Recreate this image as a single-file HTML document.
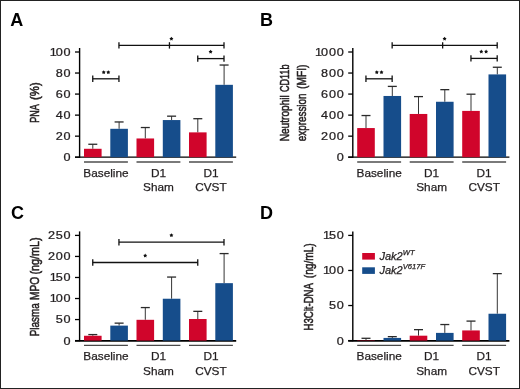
<!DOCTYPE html>
<html><head><meta charset="utf-8"><style>
html,body{margin:0;padding:0;background:#fff;}
body{width:520px;height:389px;overflow:hidden;}
svg{display:block;will-change:transform;}
text{font-family:"Liberation Sans",sans-serif;fill:#231f20;}
.t{font-size:11.8px;stroke:#231f20;stroke-width:0.25px;}
.tk{font-size:11px;letter-spacing:0.7px;stroke:#231f20;stroke-width:0.25px;}
.st{font-size:11px;font-weight:bold;}
.yl{font-size:12px;stroke:#231f20;stroke-width:0.55px;}
.lg{font-size:11px;font-style:italic;stroke:#231f20;stroke-width:0.25px;}
.pl{font-size:18px;font-weight:bold;fill:#000;}
</style></head><body>
<svg width="520" height="389" viewBox="0 0 520 389">
<rect x="0" y="0" width="520" height="389" fill="#fff"/>
<line x1="79.6" y1="48" x2="79.6" y2="157.85" stroke="#000" stroke-width="1.4"/>
<line x1="75" y1="157.2" x2="236.2" y2="157.2" stroke="#000" stroke-width="1.3"/>
<line x1="75" y1="157.2" x2="79.6" y2="157.2" stroke="#000" stroke-width="1.3"/>
<text transform="translate(71.4,161.1) scale(1.15,1)" text-anchor="end" class="tk">0</text>
<line x1="75" y1="136.16" x2="79.6" y2="136.16" stroke="#000" stroke-width="1.3"/>
<text transform="translate(71.4,140.06) scale(1.15,1)" text-anchor="end" class="tk">20</text>
<line x1="75" y1="115.12" x2="79.6" y2="115.12" stroke="#000" stroke-width="1.3"/>
<text transform="translate(71.4,119.02) scale(1.15,1)" text-anchor="end" class="tk">40</text>
<line x1="75" y1="94.08" x2="79.6" y2="94.08" stroke="#000" stroke-width="1.3"/>
<text transform="translate(71.4,97.98) scale(1.15,1)" text-anchor="end" class="tk">60</text>
<line x1="75" y1="73.04" x2="79.6" y2="73.04" stroke="#000" stroke-width="1.3"/>
<text transform="translate(71.4,76.94) scale(1.15,1)" text-anchor="end" class="tk">80</text>
<line x1="75" y1="52" x2="79.6" y2="52" stroke="#000" stroke-width="1.3"/>
<text transform="translate(71.4,55.9) scale(1.15,1)" text-anchor="end" class="tk">1<tspan dx="-1.6">00</tspan></text>
<line x1="92.8" y1="144.26" x2="92.8" y2="148.78" stroke="#2a2a2a" stroke-width="0.95"/>
<line x1="88.3" y1="144.26" x2="97.3" y2="144.26" stroke="#2a2a2a" stroke-width="1.3"/>
<rect x="84" y="148.78" width="17.6" height="8.42" fill="#d0052b"/>
<line x1="119.1" y1="121.96" x2="119.1" y2="128.8" stroke="#2a2a2a" stroke-width="0.95"/>
<line x1="114.6" y1="121.96" x2="123.6" y2="121.96" stroke="#2a2a2a" stroke-width="1.3"/>
<rect x="110.3" y="128.8" width="17.6" height="28.4" fill="#164d8b"/>
<line x1="84" y1="162" x2="127.9" y2="162" stroke="#7a7a7a" stroke-width="1.8"/>
<line x1="145.3" y1="127.53" x2="145.3" y2="138.47" stroke="#2a2a2a" stroke-width="0.95"/>
<line x1="140.8" y1="127.53" x2="149.8" y2="127.53" stroke="#2a2a2a" stroke-width="1.3"/>
<rect x="136.5" y="138.47" width="17.6" height="18.73" fill="#d0052b"/>
<line x1="171.6" y1="116.17" x2="171.6" y2="120.06" stroke="#2a2a2a" stroke-width="0.95"/>
<line x1="167.1" y1="116.17" x2="176.1" y2="116.17" stroke="#2a2a2a" stroke-width="1.3"/>
<rect x="162.8" y="120.06" width="17.6" height="37.14" fill="#164d8b"/>
<line x1="136.5" y1="162" x2="180.4" y2="162" stroke="#7a7a7a" stroke-width="1.8"/>
<line x1="197.8" y1="118.7" x2="197.8" y2="132.37" stroke="#2a2a2a" stroke-width="0.95"/>
<line x1="193.3" y1="118.7" x2="202.3" y2="118.7" stroke="#2a2a2a" stroke-width="1.3"/>
<rect x="189" y="132.37" width="17.6" height="24.83" fill="#d0052b"/>
<line x1="224.1" y1="65.04" x2="224.1" y2="84.82" stroke="#2a2a2a" stroke-width="0.95"/>
<line x1="219.6" y1="65.04" x2="228.6" y2="65.04" stroke="#2a2a2a" stroke-width="1.3"/>
<rect x="215.3" y="84.82" width="17.6" height="72.38" fill="#164d8b"/>
<line x1="189" y1="162" x2="232.9" y2="162" stroke="#7a7a7a" stroke-width="1.8"/>
<text x="105.95" y="177" text-anchor="middle" class="t">Baseline</text>
<text x="158.45" y="177" text-anchor="middle" class="t">D1</text>
<text x="158.45" y="191.3" text-anchor="middle" class="t">Sham</text>
<text x="210.95" y="177" text-anchor="middle" class="t">D1</text>
<text x="210.95" y="191.3" text-anchor="middle" class="t">CVST</text>
<text transform="translate(39.4,122.74) rotate(-90)" class="yl" style="font-size:13.4px;font-weight:normal" textLength="18.56" lengthAdjust="spacingAndGlyphs">PNA</text>
<text transform="translate(39.4,99.9) rotate(-90)" class="yl" style="font-size:13.4px;font-weight:normal" textLength="17.6" lengthAdjust="spacingAndGlyphs">(%)</text>
<line x1="92.75" y1="78.8" x2="118.95" y2="78.8" stroke="#111" stroke-width="1.3"/>
<line x1="92.75" y1="75.6" x2="92.75" y2="82" stroke="#111" stroke-width="1.3"/>
<line x1="118.95" y1="75.6" x2="118.95" y2="82" stroke="#111" stroke-width="1.3"/>
<polygon points="103.7,70.2 104.38,71.37 105.7,71.65 104.79,72.66 104.93,74 103.7,73.45 102.47,74 102.61,72.66 101.7,71.65 103.02,71.37" fill="#111"/>
<polygon points="108.3,70.2 108.98,71.37 110.3,71.65 109.39,72.66 109.53,74 108.3,73.45 107.07,74 107.21,72.66 106.3,71.65 107.62,71.37" fill="#111"/>
<line x1="118.95" y1="45.4" x2="224" y2="45.4" stroke="#111" stroke-width="1.3"/>
<line x1="118.95" y1="42.2" x2="118.95" y2="48.6" stroke="#111" stroke-width="1.3"/>
<line x1="224" y1="42.2" x2="224" y2="48.6" stroke="#111" stroke-width="1.3"/>
<line x1="169.45" y1="42.2" x2="169.45" y2="48.6" stroke="#111" stroke-width="1.3"/>
<polygon points="171.4,36.7 172.08,37.87 173.4,38.15 172.49,39.16 172.63,40.5 171.4,39.95 170.17,40.5 170.31,39.16 169.4,38.15 170.72,37.87" fill="#111"/>
<line x1="197.75" y1="58.6" x2="224" y2="58.6" stroke="#111" stroke-width="1.3"/>
<line x1="197.75" y1="55.4" x2="197.75" y2="61.8" stroke="#111" stroke-width="1.3"/>
<line x1="224" y1="55.4" x2="224" y2="61.8" stroke="#111" stroke-width="1.3"/>
<polygon points="210.6,49.7 211.28,50.87 212.6,51.15 211.69,52.16 211.83,53.5 210.6,52.95 209.37,53.5 209.51,52.16 208.6,51.15 209.92,50.87" fill="#111"/>
<line x1="352.8" y1="48" x2="352.8" y2="157.85" stroke="#000" stroke-width="1.4"/>
<line x1="348.2" y1="157.2" x2="509.4" y2="157.2" stroke="#000" stroke-width="1.3"/>
<line x1="348.2" y1="157.2" x2="352.8" y2="157.2" stroke="#000" stroke-width="1.3"/>
<text transform="translate(344.6,161.1) scale(1.15,1)" text-anchor="end" class="tk">0</text>
<line x1="348.2" y1="136.16" x2="352.8" y2="136.16" stroke="#000" stroke-width="1.3"/>
<text transform="translate(344.6,140.06) scale(1.15,1)" text-anchor="end" class="tk">200</text>
<line x1="348.2" y1="115.12" x2="352.8" y2="115.12" stroke="#000" stroke-width="1.3"/>
<text transform="translate(344.6,119.02) scale(1.15,1)" text-anchor="end" class="tk">400</text>
<line x1="348.2" y1="94.08" x2="352.8" y2="94.08" stroke="#000" stroke-width="1.3"/>
<text transform="translate(344.6,97.98) scale(1.15,1)" text-anchor="end" class="tk">600</text>
<line x1="348.2" y1="73.04" x2="352.8" y2="73.04" stroke="#000" stroke-width="1.3"/>
<text transform="translate(344.6,76.94) scale(1.15,1)" text-anchor="end" class="tk">800</text>
<line x1="348.2" y1="52" x2="352.8" y2="52" stroke="#000" stroke-width="1.3"/>
<text transform="translate(344.6,55.9) scale(1.15,1)" text-anchor="end" class="tk">1<tspan dx="-1.6">000</tspan></text>
<line x1="366" y1="115.54" x2="366" y2="128.06" stroke="#2a2a2a" stroke-width="0.95"/>
<line x1="361.5" y1="115.54" x2="370.5" y2="115.54" stroke="#2a2a2a" stroke-width="1.3"/>
<rect x="357.2" y="128.06" width="17.6" height="29.14" fill="#d0052b"/>
<line x1="392.3" y1="86.4" x2="392.3" y2="95.97" stroke="#2a2a2a" stroke-width="0.95"/>
<line x1="387.8" y1="86.4" x2="396.8" y2="86.4" stroke="#2a2a2a" stroke-width="1.3"/>
<rect x="383.5" y="95.97" width="17.6" height="61.23" fill="#164d8b"/>
<line x1="357.2" y1="162" x2="401.1" y2="162" stroke="#7a7a7a" stroke-width="1.8"/>
<line x1="418.5" y1="96.6" x2="418.5" y2="113.96" stroke="#2a2a2a" stroke-width="0.95"/>
<line x1="414" y1="96.6" x2="423" y2="96.6" stroke="#2a2a2a" stroke-width="1.3"/>
<rect x="409.7" y="113.96" width="17.6" height="43.24" fill="#d0052b"/>
<line x1="444.8" y1="89.66" x2="444.8" y2="101.76" stroke="#2a2a2a" stroke-width="0.95"/>
<line x1="440.3" y1="89.66" x2="449.3" y2="89.66" stroke="#2a2a2a" stroke-width="1.3"/>
<rect x="436" y="101.76" width="17.6" height="55.44" fill="#164d8b"/>
<line x1="409.7" y1="162" x2="453.6" y2="162" stroke="#7a7a7a" stroke-width="1.8"/>
<line x1="471" y1="94.19" x2="471" y2="110.91" stroke="#2a2a2a" stroke-width="0.95"/>
<line x1="466.5" y1="94.19" x2="475.5" y2="94.19" stroke="#2a2a2a" stroke-width="1.3"/>
<rect x="462.2" y="110.91" width="17.6" height="46.29" fill="#d0052b"/>
<line x1="497.3" y1="67.25" x2="497.3" y2="74.41" stroke="#2a2a2a" stroke-width="0.95"/>
<line x1="492.8" y1="67.25" x2="501.8" y2="67.25" stroke="#2a2a2a" stroke-width="1.3"/>
<rect x="488.5" y="74.41" width="17.6" height="82.79" fill="#164d8b"/>
<line x1="462.2" y1="162" x2="506.1" y2="162" stroke="#7a7a7a" stroke-width="1.8"/>
<text x="379.15" y="177" text-anchor="middle" class="t">Baseline</text>
<text x="431.65" y="177" text-anchor="middle" class="t">D1</text>
<text x="431.65" y="191.3" text-anchor="middle" class="t">Sham</text>
<text x="484.15" y="177" text-anchor="middle" class="t">D1</text>
<text x="484.15" y="191.3" text-anchor="middle" class="t">CVST</text>
<text transform="translate(289.4,141.33) rotate(-90)" class="yl" style="font-size:13.4px;font-weight:normal" textLength="46.11" lengthAdjust="spacingAndGlyphs">Neutrophil</text>
<text transform="translate(289.4,92.05) rotate(-90)" class="yl" style="font-size:13.4px;font-weight:normal" textLength="27.62" lengthAdjust="spacingAndGlyphs">CD11b</text>
<text transform="translate(305.9,141.32) rotate(-90)" class="yl" style="font-size:13.4px;font-weight:normal" textLength="47.86" lengthAdjust="spacingAndGlyphs">expression</text>
<text transform="translate(305.9,88.93) rotate(-90)" class="yl" style="font-size:13.4px;font-weight:normal" textLength="24.37" lengthAdjust="spacingAndGlyphs">(MFI)</text>
<line x1="365.95" y1="78.8" x2="392.15" y2="78.8" stroke="#111" stroke-width="1.3"/>
<line x1="365.95" y1="75.6" x2="365.95" y2="82" stroke="#111" stroke-width="1.3"/>
<line x1="392.15" y1="75.6" x2="392.15" y2="82" stroke="#111" stroke-width="1.3"/>
<polygon points="376.8,70.2 377.48,71.37 378.8,71.65 377.89,72.66 378.03,74 376.8,73.45 375.57,74 375.71,72.66 374.8,71.65 376.12,71.37" fill="#111"/>
<polygon points="381.5,70.2 382.18,71.37 383.5,71.65 382.59,72.66 382.73,74 381.5,73.45 380.27,74 380.41,72.66 379.5,71.65 380.82,71.37" fill="#111"/>
<line x1="392.15" y1="45.4" x2="497.2" y2="45.4" stroke="#111" stroke-width="1.3"/>
<line x1="392.15" y1="42.2" x2="392.15" y2="48.6" stroke="#111" stroke-width="1.3"/>
<line x1="497.2" y1="42.2" x2="497.2" y2="48.6" stroke="#111" stroke-width="1.3"/>
<line x1="442.65" y1="42.2" x2="442.65" y2="48.6" stroke="#111" stroke-width="1.3"/>
<polygon points="444.6,36.7 445.28,37.87 446.6,38.15 445.69,39.16 445.83,40.5 444.6,39.95 443.37,40.5 443.51,39.16 442.6,38.15 443.92,37.87" fill="#111"/>
<line x1="470.95" y1="58.4" x2="497.2" y2="58.4" stroke="#111" stroke-width="1.3"/>
<line x1="470.95" y1="55.2" x2="470.95" y2="61.6" stroke="#111" stroke-width="1.3"/>
<line x1="497.2" y1="55.2" x2="497.2" y2="61.6" stroke="#111" stroke-width="1.3"/>
<polygon points="481.3,49.6 481.98,50.77 483.3,51.05 482.39,52.06 482.53,53.4 481.3,52.85 480.07,53.4 480.21,52.06 479.3,51.05 480.62,50.77" fill="#111"/>
<polygon points="486.1,49.6 486.78,50.77 488.1,51.05 487.19,52.06 487.33,53.4 486.1,52.85 484.87,53.4 485.01,52.06 484.1,51.05 485.42,50.77" fill="#111"/>
<line x1="79.6" y1="231.4" x2="79.6" y2="341.25" stroke="#000" stroke-width="1.4"/>
<line x1="75" y1="340.85" x2="236.2" y2="340.85" stroke="#000" stroke-width="1.6"/>
<line x1="75" y1="340.6" x2="79.6" y2="340.6" stroke="#000" stroke-width="1.3"/>
<text transform="translate(71.4,344.5) scale(1.15,1)" text-anchor="end" class="tk">0</text>
<line x1="75" y1="319.56" x2="79.6" y2="319.56" stroke="#000" stroke-width="1.3"/>
<text transform="translate(71.4,323.46) scale(1.15,1)" text-anchor="end" class="tk">50</text>
<line x1="75" y1="298.52" x2="79.6" y2="298.52" stroke="#000" stroke-width="1.3"/>
<text transform="translate(71.4,302.42) scale(1.15,1)" text-anchor="end" class="tk">1<tspan dx="-1.6">00</tspan></text>
<line x1="75" y1="277.48" x2="79.6" y2="277.48" stroke="#000" stroke-width="1.3"/>
<text transform="translate(71.4,281.38) scale(1.15,1)" text-anchor="end" class="tk">1<tspan dx="-1.6">50</tspan></text>
<line x1="75" y1="256.44" x2="79.6" y2="256.44" stroke="#000" stroke-width="1.3"/>
<text transform="translate(71.4,260.34) scale(1.15,1)" text-anchor="end" class="tk">200</text>
<line x1="75" y1="235.4" x2="79.6" y2="235.4" stroke="#000" stroke-width="1.3"/>
<text transform="translate(71.4,239.3) scale(1.15,1)" text-anchor="end" class="tk">250</text>
<line x1="92.8" y1="334.58" x2="92.8" y2="335.76" stroke="#2a2a2a" stroke-width="0.95"/>
<line x1="88.3" y1="334.58" x2="97.3" y2="334.58" stroke="#2a2a2a" stroke-width="1.3"/>
<rect x="84" y="335.76" width="17.6" height="4.84" fill="#d0052b"/>
<line x1="119.1" y1="323.14" x2="119.1" y2="325.62" stroke="#2a2a2a" stroke-width="0.95"/>
<line x1="114.6" y1="323.14" x2="123.6" y2="323.14" stroke="#2a2a2a" stroke-width="1.3"/>
<rect x="110.3" y="325.62" width="17.6" height="14.98" fill="#164d8b"/>
<line x1="84" y1="345.4" x2="127.9" y2="345.4" stroke="#4a4a4a" stroke-width="1.15"/>
<line x1="145.3" y1="307.57" x2="145.3" y2="319.81" stroke="#2a2a2a" stroke-width="0.95"/>
<line x1="140.8" y1="307.57" x2="149.8" y2="307.57" stroke="#2a2a2a" stroke-width="1.3"/>
<rect x="136.5" y="319.81" width="17.6" height="20.79" fill="#d0052b"/>
<line x1="171.6" y1="277.06" x2="171.6" y2="298.73" stroke="#2a2a2a" stroke-width="0.95"/>
<line x1="167.1" y1="277.06" x2="176.1" y2="277.06" stroke="#2a2a2a" stroke-width="1.3"/>
<rect x="162.8" y="298.73" width="17.6" height="41.87" fill="#164d8b"/>
<line x1="136.5" y1="345.4" x2="180.4" y2="345.4" stroke="#4a4a4a" stroke-width="1.15"/>
<line x1="197.8" y1="311.35" x2="197.8" y2="319.01" stroke="#2a2a2a" stroke-width="0.95"/>
<line x1="193.3" y1="311.35" x2="202.3" y2="311.35" stroke="#2a2a2a" stroke-width="1.3"/>
<rect x="189" y="319.01" width="17.6" height="21.59" fill="#d0052b"/>
<line x1="224.1" y1="253.58" x2="224.1" y2="283.16" stroke="#2a2a2a" stroke-width="0.95"/>
<line x1="219.6" y1="253.58" x2="228.6" y2="253.58" stroke="#2a2a2a" stroke-width="1.3"/>
<rect x="215.3" y="283.16" width="17.6" height="57.44" fill="#164d8b"/>
<line x1="189" y1="345.4" x2="232.9" y2="345.4" stroke="#4a4a4a" stroke-width="1.15"/>
<text x="105.95" y="360.4" text-anchor="middle" class="t">Baseline</text>
<text x="158.45" y="360.4" text-anchor="middle" class="t">D1</text>
<text x="158.45" y="374.7" text-anchor="middle" class="t">Sham</text>
<text x="210.95" y="360.4" text-anchor="middle" class="t">D1</text>
<text x="210.95" y="374.7" text-anchor="middle" class="t">CVST</text>
<text transform="translate(39.1,336.31) rotate(-90)" class="yl" style="font-size:13.4px;font-weight:normal" textLength="33.11" lengthAdjust="spacingAndGlyphs">Plasma</text>
<text transform="translate(39.1,299.93) rotate(-90)" class="yl" style="font-size:13.4px;font-weight:normal" textLength="23.12" lengthAdjust="spacingAndGlyphs">MPO</text>
<text transform="translate(39.1,274.57) rotate(-90)" class="yl" style="font-size:13.4px;font-weight:normal" textLength="37.24" lengthAdjust="spacingAndGlyphs">(ng/mL)</text>
<line x1="118.95" y1="242.2" x2="224" y2="242.2" stroke="#111" stroke-width="1.3"/>
<line x1="118.95" y1="239" x2="118.95" y2="245.4" stroke="#111" stroke-width="1.3"/>
<line x1="224" y1="239" x2="224" y2="245.4" stroke="#111" stroke-width="1.3"/>
<polygon points="171.4,233.2 172.08,234.37 173.4,234.65 172.49,235.66 172.63,237 171.4,236.45 170.17,237 170.31,235.66 169.4,234.65 170.72,234.37" fill="#111"/>
<line x1="92.75" y1="262.5" x2="197.75" y2="262.5" stroke="#111" stroke-width="1.3"/>
<line x1="92.75" y1="259.3" x2="92.75" y2="265.7" stroke="#111" stroke-width="1.3"/>
<line x1="197.75" y1="259.3" x2="197.75" y2="265.7" stroke="#111" stroke-width="1.3"/>
<polygon points="145.2,253.6 145.88,254.77 147.2,255.05 146.29,256.06 146.43,257.4 145.2,256.85 143.97,257.4 144.11,256.06 143.2,255.05 144.52,254.77" fill="#111"/>
<line x1="352.8" y1="231.4" x2="352.8" y2="341.25" stroke="#000" stroke-width="1.4"/>
<line x1="348.2" y1="340.85" x2="509.4" y2="340.85" stroke="#000" stroke-width="1.6"/>
<line x1="348.2" y1="340.6" x2="352.8" y2="340.6" stroke="#000" stroke-width="1.3"/>
<text transform="translate(344.6,344.5) scale(1.15,1)" text-anchor="end" class="tk">0</text>
<line x1="348.2" y1="305.53" x2="352.8" y2="305.53" stroke="#000" stroke-width="1.3"/>
<text transform="translate(344.6,309.43) scale(1.15,1)" text-anchor="end" class="tk">50</text>
<line x1="348.2" y1="270.47" x2="352.8" y2="270.47" stroke="#000" stroke-width="1.3"/>
<text transform="translate(344.6,274.37) scale(1.15,1)" text-anchor="end" class="tk">1<tspan dx="-1.6">00</tspan></text>
<line x1="348.2" y1="235.4" x2="352.8" y2="235.4" stroke="#000" stroke-width="1.3"/>
<text transform="translate(344.6,239.3) scale(1.15,1)" text-anchor="end" class="tk">1<tspan dx="-1.6">50</tspan></text>
<line x1="366" y1="338.29" x2="366" y2="340.25" stroke="#2a2a2a" stroke-width="0.95"/>
<line x1="361.5" y1="338.29" x2="370.5" y2="338.29" stroke="#2a2a2a" stroke-width="1.3"/>
<rect x="357.2" y="340.25" width="17.6" height="0.35" fill="#d0052b"/>
<line x1="392.3" y1="336.67" x2="392.3" y2="337.93" stroke="#2a2a2a" stroke-width="0.95"/>
<line x1="387.8" y1="336.67" x2="396.8" y2="336.67" stroke="#2a2a2a" stroke-width="1.3"/>
<rect x="383.5" y="337.93" width="17.6" height="2.67" fill="#164d8b"/>
<line x1="357.2" y1="345.4" x2="401.1" y2="345.4" stroke="#4a4a4a" stroke-width="1.15"/>
<line x1="418.5" y1="329.66" x2="418.5" y2="335.69" stroke="#2a2a2a" stroke-width="0.95"/>
<line x1="414" y1="329.66" x2="423" y2="329.66" stroke="#2a2a2a" stroke-width="1.3"/>
<rect x="409.7" y="335.69" width="17.6" height="4.91" fill="#d0052b"/>
<line x1="444.8" y1="324.54" x2="444.8" y2="332.89" stroke="#2a2a2a" stroke-width="0.95"/>
<line x1="440.3" y1="324.54" x2="449.3" y2="324.54" stroke="#2a2a2a" stroke-width="1.3"/>
<rect x="436" y="332.89" width="17.6" height="7.71" fill="#164d8b"/>
<line x1="409.7" y1="345.4" x2="453.6" y2="345.4" stroke="#4a4a4a" stroke-width="1.15"/>
<line x1="471" y1="321.1" x2="471" y2="330.43" stroke="#2a2a2a" stroke-width="0.95"/>
<line x1="466.5" y1="321.1" x2="475.5" y2="321.1" stroke="#2a2a2a" stroke-width="1.3"/>
<rect x="462.2" y="330.43" width="17.6" height="10.17" fill="#d0052b"/>
<line x1="497.3" y1="273.62" x2="497.3" y2="313.74" stroke="#2a2a2a" stroke-width="0.95"/>
<line x1="492.8" y1="273.62" x2="501.8" y2="273.62" stroke="#2a2a2a" stroke-width="1.3"/>
<rect x="488.5" y="313.74" width="17.6" height="26.86" fill="#164d8b"/>
<line x1="462.2" y1="345.4" x2="506.1" y2="345.4" stroke="#4a4a4a" stroke-width="1.15"/>
<text x="379.15" y="360.4" text-anchor="middle" class="t">Baseline</text>
<text x="431.65" y="360.4" text-anchor="middle" class="t">D1</text>
<text x="431.65" y="374.7" text-anchor="middle" class="t">Sham</text>
<text x="484.15" y="360.4" text-anchor="middle" class="t">D1</text>
<text x="484.15" y="374.7" text-anchor="middle" class="t">CVST</text>
<text transform="translate(312.5,330.49) rotate(-90)" class="yl" style="font-size:13.4px;font-weight:normal" textLength="47.41" lengthAdjust="spacingAndGlyphs">H3Cit-DNA</text>
<text transform="translate(312.5,278.23) rotate(-90)" class="yl" style="font-size:13.4px;font-weight:normal" textLength="34.96" lengthAdjust="spacingAndGlyphs">(ng/mL)</text>
<rect x="362.2" y="253" width="12.7" height="6.6" fill="#d0052b"/>
<rect x="362.2" y="267.3" width="12.7" height="6.6" fill="#164d8b"/>
<text x="379.5" y="259.6" class="lg">Jak2<tspan dy="-4.6" style="font-size:7.6px">WT</tspan></text>
<text x="379.5" y="273.6" class="lg">Jak2<tspan dy="-4.6" style="font-size:7.6px">V617F</tspan></text>
<text x="10.35" y="25.6" class="pl">A</text>
<text x="260.1" y="25.6" class="pl">B</text>
<text x="10.95" y="219.1" class="pl">C</text>
<text x="260.1" y="219.2" class="pl">D</text>
<rect x="0.5" y="0.5" width="519" height="388" fill="none" stroke="#222" stroke-width="1"/>
</svg>
</body></html>
